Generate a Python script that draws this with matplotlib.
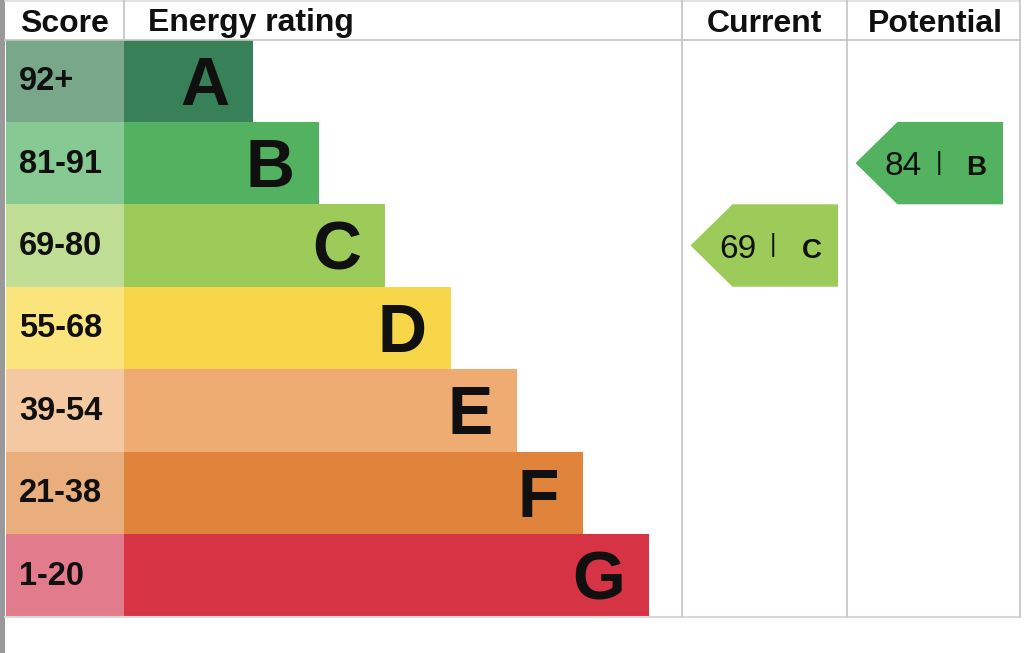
import matplotlib
matplotlib.use("Agg")
import matplotlib.pyplot as plt
from matplotlib.patches import Rectangle, Polygon

plt.rcParams['font.family'] = ['Liberation Sans', 'DejaVu Sans']

###############################################################
# data
###############################################################
bands       = ["A", "B", "C", "D", "E", "F", "G"]
score_range = ["92+", "81-91", "69-80", "55-68", "39-54", "21-38", "1-20"]
band_low    = [92, 81, 69, 55, 39, 21, 1]
bar_color   = ["#378058", "#52b260", "#9ccb5a", "#f7d64a", "#efac72", "#e0843b", "#d63444"]
cell_color  = ["#79a78a", "#86c993", "#bfde94", "#fbe47b", "#f4c9a2", "#e9ae7b", "#e27b8b"]

headers     = ["Score", "Energy rating", "Current", "Potential"]
current     = 69
potential   = 84

###############################################################
# layout (pixels, y grows downwards)
###############################################################
W, H = 1024, 653
top_y, head_y = 0, 39.5
row_h = 82.4
score_x0, score_x1 = 6, 124
bar_x1_first, bar_step = 253, 66
col_cur = (682, 847)
col_pot = (847, 1019.5)
grid = "#c4c4c4"
ink = "#101010"


def band_index(score):
    for i, lo in enumerate(band_low):
        if score >= lo:
            return i
    return len(band_low) - 1


fig = plt.figure(figsize=(W / 100, H / 100), dpi=100)
ax = fig.add_axes([0, 0, 1, 1])
ax.set_xlim(0, W)
ax.set_ylim(H, 0)
ax.axis("off")

# left grey strip
ax.add_patch(Rectangle((0, 0), 4.5, H, color="#999999", lw=0))

table_bottom = head_y + row_h * len(bands)

# grid lines
ax.plot([5, col_pot[1]], [top_y + 0.8, top_y + 0.8], color="#dddddd", lw=1.2)
ax.plot([5, col_pot[1]], [head_y, head_y], color=grid, lw=1.2)
ax.plot([5, col_pot[1]], [table_bottom + 0.8, table_bottom + 0.8], color="#d8d8d8", lw=1.5)
ax.plot([score_x1, score_x1], [0, head_y], color=grid, lw=1.2)
for x in (col_cur[0], col_cur[1], col_pot[1]):
    ax.plot([x, x], [0, table_bottom], color=grid, lw=1.2)

# headers
hb = 31.5
ax.text(20, hb, headers[0], fontsize=23, fontweight="bold", color=ink, va="baseline", ha="left")
ax.text(148, hb, headers[1], fontsize=23, fontweight="bold", color=ink, va="baseline", ha="left")
ax.text(sum(col_cur) / 2, hb, headers[2], fontsize=23, fontweight="bold", color=ink,
        va="baseline", ha="center")
ax.text(sum(col_pot) / 2 + 2, hb, headers[3], fontsize=23, fontweight="bold", color=ink,
        va="baseline", ha="center")

# rating rows
for i, (band, rng) in enumerate(zip(bands, score_range)):
    y0 = head_y + row_h * i
    ym = y0 + row_h / 2
    x_end = bar_x1_first + bar_step * i
    ax.add_patch(Rectangle((score_x0, y0), score_x1 - score_x0, row_h, color=cell_color[i], lw=0))
    ax.add_patch(Rectangle((score_x1, y0), x_end - score_x1, row_h, color=bar_color[i], lw=0))
    ax.text(19, ym + 9.5, rng, fontsize=23.5, fontweight="bold", color=ink,
            va="baseline", ha="left")
    ax.text(x_end - 24, ym + 24, band, fontsize=49, fontweight="bold", color=ink,
            va="baseline", ha="right")


def draw_arrow(score, col):
    i = band_index(score)
    y0 = head_y + row_h * i
    y1 = y0 + row_h
    tip = col[0] + 8.5
    right = tip + 147.5
    flat = tip + 42
    ym = (y0 + y1) / 2
    ax.add_patch(Polygon([(tip, ym), (flat, y0), (right, y0), (right, y1), (flat, y1)],
                         closed=True, color=bar_color[i], lw=0))
    ax.text(tip + 29, ym + 12, str(score), fontsize=24, color=ink, va="baseline", ha="left")
    ax.text(tip + 83, ym + 6.5, "|", fontsize=18, color=ink, va="baseline", ha="center")
    ax.text(tip + 121, ym + 12, bands[i], fontsize=20, fontweight="bold", color=ink,
            va="baseline", ha="center")


draw_arrow(current, col_cur)
draw_arrow(potential, col_pot)

fig.savefig("out.png", dpi=100)
